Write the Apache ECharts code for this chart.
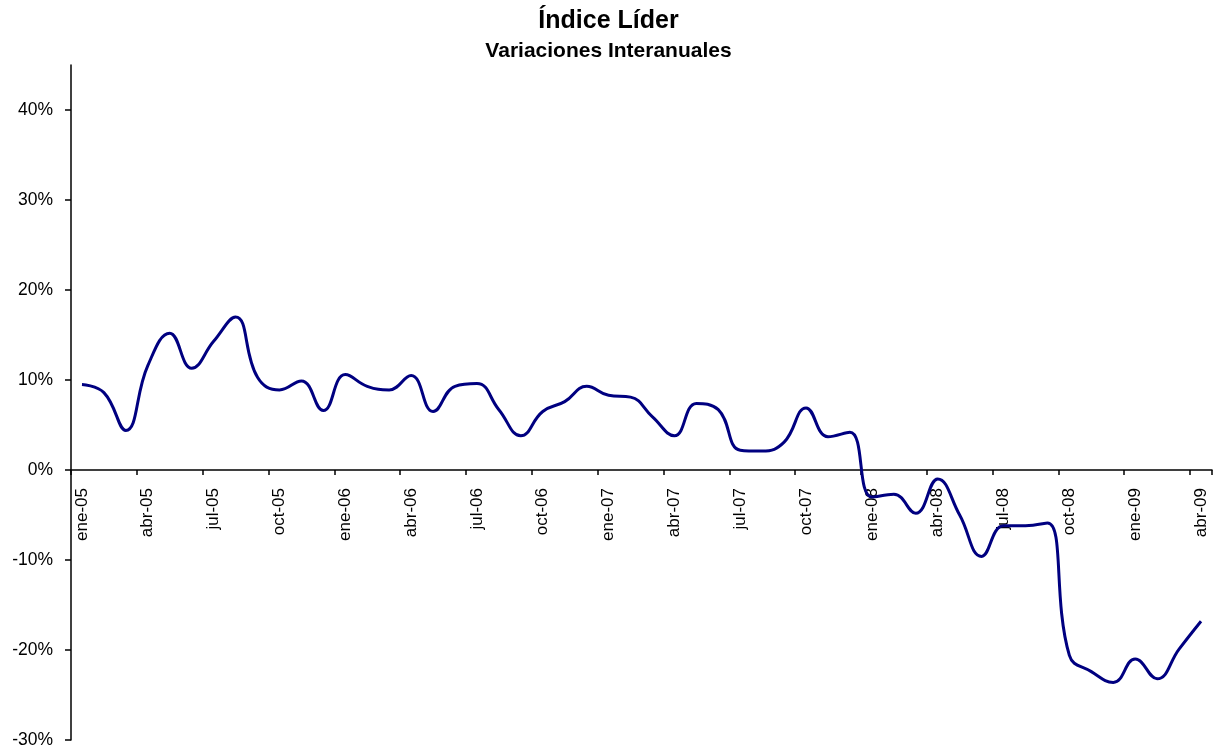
<!DOCTYPE html>
<html>
<head>
<meta charset="utf-8">
<script src="https://cdn.jsdelivr.net/npm/echarts@6/dist/echarts.min.js"></script>
<style>html,body{margin:0;padding:0;background:#fff}#c{width:1217px;height:753px}</style>
</head>
<body>
<div id="c"></div>
<script>
const months = ['ene','feb','mar','abr','may','jun','jul','ago','sep','oct','nov','dic'];
const categories = [];
for (let y = 5; y <= 9; y++) {
  for (let m = 0; m < 12; m++) {
    if (y === 9 && m > 3) break;
    categories.push(months[m] + '-0' + y);
  }
}
const values = [
  9.5, 8.6, 4.4, 11.6, 15.2, 11.3, 14.3, 17.0, 10.3, 8.9, 9.9, 6.6,
  10.6, 9.3, 8.9, 10.5, 6.5, 9.3, 9.6, 6.7, 3.8, 6.5, 7.6, 9.3,
  8.3, 8.1, 5.9, 3.8, 7.4, 6.7, 2.2, 2.1, 3.1, 6.9, 3.7, 4.2,
  -3.0, -2.7, -4.8, -1.0, -5.0, -9.6, -6.2, -6.2, -5.9, -20.6, -22.4, -23.6,
  -21.0, -23.2, -19.9, -16.8
];
const yTicks = [-30, -20, -10, 0, 10, 20, 30, 40];
const titleText = 'Índice Líder';
const subtitleText = 'Variaciones Interanuales';

const Y_MIN = -30, Y_MAX = 45;
const GRID_TOP = 65, GRID_BOTTOM = 13, H = 753;
const plotH = H - GRID_TOP - GRID_BOTTOM;
const zeroFromBottom = plotH * (0 - Y_MIN) / (Y_MAX - Y_MIN);

const chart = echarts.init(document.getElementById('c'));
const font = '"Liberation Sans", Arial, sans-serif';
chart.setOption({
  animation: false,
  backgroundColor: '#fff',
  title: [
    { text: titleText, left: 'center', top: 4, textStyle: { fontFamily: font, fontSize: 25, fontWeight: 'bold', color: '#000' } },
    { text: subtitleText, left: 'center', top: 36, textStyle: { fontFamily: font, fontSize: 21, fontWeight: 'bold', color: '#000' } }
  ],
  grid: { left: 71, right: 5, top: GRID_TOP, bottom: GRID_BOTTOM, containLabel: false, outerBoundsMode: 'none' },
  xAxis: {
    type: 'category',
    data: categories,
    boundaryGap: true,
    offset: -zeroFromBottom,
    axisLine: { onZero: false, lineStyle: { color: '#000', width: 1.5 } },
    axisTick: { show: true, interval: 2, length: 5, lineStyle: { color: '#000', width: 1.5 } },
    axisLabel: { interval: 2, rotate: 90, margin: 18, fontFamily: font, fontSize: 17, color: '#000' },
    splitLine: { show: false }
  },
  yAxis: {
    type: 'value',
    min: Y_MIN,
    max: Y_MAX,
    axisLine: { show: true, lineStyle: { color: '#000', width: 1.5 } },
    axisTick: { show: true, length: 6, customValues: yTicks, lineStyle: { color: '#000', width: 1.5 } },
    axisLabel: { customValues: yTicks, margin: 18, fontFamily: font, fontSize: 17.5, color: '#000', formatter: v => v + '%' },
    splitLine: { show: false }
  },
  series: [{
    type: 'line',
    data: values,
    smooth: 0.45,
    symbol: 'none',
    lineStyle: { color: '#000080', width: 3 }
  }]
});
</script>
</body>
</html>
